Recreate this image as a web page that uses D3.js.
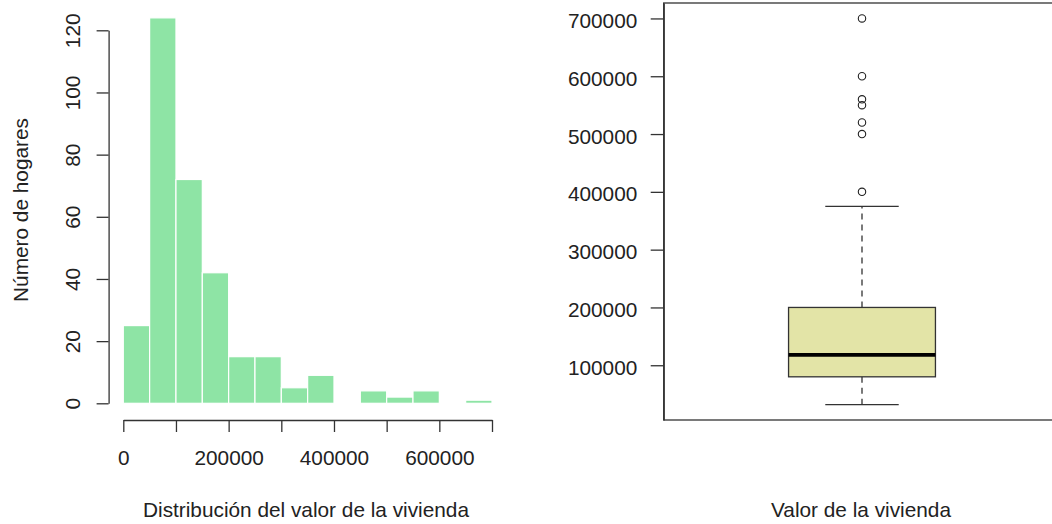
<!DOCTYPE html>
<html>
<head>
<meta charset="utf-8">
<script src="https://cdn.jsdelivr.net/npm/d3@7"></script>
<style>
  html, body { margin: 0; padding: 0; background: #fff; }
  svg { display: block; }
  text { font-family: "Liberation Sans", Arial, sans-serif; fill: #222; }
</style>
</head>
<body>
<svg id="chart" width="1052" height="524"></svg>
<script>
// Histogram: bin edges (house value) and household counts per bin
const binEdges = [0, 50000, 100000, 150000, 200000, 250000, 300000, 350000,
                  400000, 450000, 500000, 550000, 600000, 650000, 700000];
const binCounts = [25, 124, 72, 42, 15, 15, 5, 9, 0, 4, 2, 4, 0, 1];
const histXTicks = [0, 100000, 200000, 300000, 400000, 500000, 600000, 700000];
const histXTickLabels = [0, 200000, 400000, 600000];
const histYTicks = [0, 20, 40, 60, 80, 100, 120];

// Box plot: lower whisker, Q1, median, Q3, upper whisker, and outliers
const boxStats = [32000, 80000, 118000, 200000, 375000];
const boxOutliers = [400000, 500000, 520000, 550000, 560000, 600000, 700000];
const boxYTicks = [100000, 200000, 300000, 400000, 500000, 600000, 700000];

const histColor = "#8EE4A5";
const boxColor = "#E3E4A7";
const ink = "#333";
const fontSize = "20.8px";

const svg = d3.select("#chart");

// ---------------- Histogram ----------------
const hx = d3.scaleLinear().domain([0, 700000]).range([123.3, 492]);
const hy = d3.scaleLinear().domain([0, 120]).range([403.3, 30.3]);

const bins = binCounts.map((c, i) => ({ x0: binEdges[i], x1: binEdges[i + 1], n: c }));

svg.append("g")
  .selectAll("rect")
  .data(bins.filter(d => d.n > 0))
  .join("rect")
  .attr("x", d => hx(d.x0))
  .attr("width", d => hx(d.x1) - hx(d.x0))
  .attr("y", d => hy(d.n))
  .attr("height", d => hy(0) - hy(d.n))
  .attr("fill", histColor)
  .attr("stroke", "#fff")
  .attr("stroke-width", 1.2);

// x axis of histogram
const hxAxis = svg.append("g")
  .attr("transform", "translate(0,420)")
  .call(d3.axisBottom(hx)
    .tickValues(histXTicks)
    .tickSize(12)
    .tickSizeOuter(0)
    .tickFormat(d => histXTickLabels.includes(d) ? String(d) : ""));
hxAxis.select(".domain").attr("stroke", ink).attr("stroke-width", 1.3);
hxAxis.selectAll(".tick line").attr("stroke", ink).attr("stroke-width", 1.3);
hxAxis.selectAll(".tick text")
  .attr("y", 45).attr("dy", 0)
  .style("font-size", fontSize).style("fill", "#222");

// y axis of histogram (labels parallel to the axis)
const hyAxis = svg.append("g")
  .attr("transform", "translate(108.6,0)")
  .call(d3.axisLeft(hy)
    .tickValues(histYTicks)
    .tickSize(12)
    .tickSizeOuter(0));
hyAxis.select(".domain").attr("stroke", ink).attr("stroke-width", 1.3);
hyAxis.selectAll(".tick line").attr("stroke", ink).attr("stroke-width", 1.3);
hyAxis.selectAll(".tick text")
  .attr("x", 0).attr("y", 0).attr("dy", 0)
  .attr("text-anchor", "middle")
  .attr("transform", "translate(-28.6,0) rotate(-90)")
  .style("font-size", fontSize).style("fill", "#222");

svg.append("text")
  .attr("transform", "translate(28.3,210) rotate(-90)")
  .attr("text-anchor", "middle")
  .style("font-size", fontSize)
  .text("Número de hogares");

svg.append("text")
  .attr("x", 306).attr("y", 517)
  .attr("text-anchor", "middle")
  .style("font-size", fontSize)
  .text("Distribución del valor de la vivienda");

// ---------------- Box plot ----------------
const allVals = boxStats.concat(boxOutliers);
const [vMin, vMax] = d3.extent(allVals);
const pad = (vMax - vMin) * 0.04;
const by = d3.scaleLinear().domain([vMin - pad, vMax + pad]).range([420, 3]);
const bx = d3.scaleLinear().domain([0.46, 1.54]).range([663.7, 1060.3]);

const [lo, q1, med, q3, hi] = boxStats;
const boxHalf = 0.2;
const g = svg.append("g");

// whiskers (dashed)
g.append("line")
  .attr("x1", bx(1)).attr("x2", bx(1))
  .attr("y1", by(q3)).attr("y2", by(hi))
  .attr("stroke", ink).attr("stroke-width", 1.3).attr("stroke-dasharray", "6,5");
g.append("line")
  .attr("x1", bx(1)).attr("x2", bx(1))
  .attr("y1", by(q1)).attr("y2", by(lo))
  .attr("stroke", ink).attr("stroke-width", 1.3).attr("stroke-dasharray", "6,5");

// staples
[lo, hi].forEach(v => {
  g.append("line")
    .attr("x1", bx(1 - boxHalf / 2)).attr("x2", bx(1 + boxHalf / 2))
    .attr("y1", by(v)).attr("y2", by(v))
    .attr("stroke", ink).attr("stroke-width", 1.3);
});

// box
g.append("rect")
  .attr("x", bx(1 - boxHalf))
  .attr("width", bx(1 + boxHalf) - bx(1 - boxHalf))
  .attr("y", by(q3))
  .attr("height", by(q1) - by(q3))
  .attr("fill", boxColor)
  .attr("stroke", ink).attr("stroke-width", 1.3);

// median
g.append("line")
  .attr("x1", bx(1 - boxHalf)).attr("x2", bx(1 + boxHalf))
  .attr("y1", by(med)).attr("y2", by(med))
  .attr("stroke", "#000").attr("stroke-width", 3.6);

// outliers
g.selectAll("circle")
  .data(boxOutliers)
  .join("circle")
  .attr("cx", bx(1))
  .attr("cy", d => by(d))
  .attr("r", 3.7)
  .attr("fill", "none")
  .attr("stroke", "#222").attr("stroke-width", 1.1);

// frame
svg.append("rect")
  .attr("x", bx(0.46)).attr("y", 3)
  .attr("width", bx(1.54) - bx(0.46)).attr("height", 417)
  .attr("fill", "none")
  .attr("stroke", ink).attr("stroke-width", 1.3);

// y axis of box plot
const byAxis = svg.append("g")
  .attr("transform", "translate(663.7,0)")
  .call(d3.axisLeft(by)
    .tickValues(boxYTicks)
    .tickSize(13)
    .tickSizeOuter(0)
    .tickFormat(d => String(d)));
byAxis.select(".domain").attr("stroke", ink).attr("stroke-width", 1.3);
byAxis.selectAll(".tick line").attr("stroke", ink).attr("stroke-width", 1.3);
byAxis.selectAll(".tick text")
  .attr("x", -26.4).attr("y", 9).attr("dy", 0)
  .attr("text-anchor", "end")
  .style("font-size", fontSize).style("fill", "#222");

svg.append("text")
  .attr("x", 861).attr("y", 517)
  .attr("text-anchor", "middle")
  .style("font-size", fontSize)
  .text("Valor de la vivienda");
</script>
</body>
</html>
